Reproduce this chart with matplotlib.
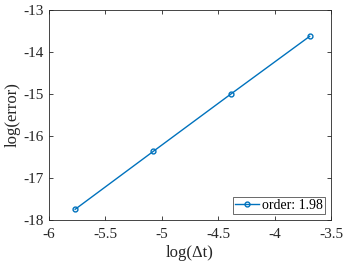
import numpy as np
import matplotlib
matplotlib.use('Agg')
from matplotlib import pyplot as plt

plt.rcParams['font.family'] = ['Liberation Serif', 'DejaVu Serif']
plt.rcParams['mathtext.fontset'] = 'stix'

# 数据：log(dt) 与 log(error)
log_dt = [-5.768, -5.075, -4.382, -3.689]
log_err = [-17.745, -16.365, -14.99, -13.627]
order = 1.98

fig = plt.figure(figsize=(3.46, 2.63), dpi=100)
ax = fig.add_axes([0.1416, 0.1635, 0.815, 0.7985])

blue = '#0072BD'
ax.plot(log_dt, log_err, color=blue, linewidth=1, marker='o', markersize=3.5,
        markerfacecolor='none', markeredgewidth=1, label=f'order: {order}')

ax.set_xlim(-6, -3.5)
ax.set_ylim(-18, -13)
ax.set_xticks([-6, -5.5, -5, -4.5, -4, -3.5])
ax.set_xticklabels(['-6', '-5.5', '-5', '-4.5', '-4', '-3.5'])
ax.set_yticks([-18, -17, -16, -15, -14, -13])
ax.set_yticklabels(['-18', '-17', '-16', '-15', '-14', '-13'])

gray = '#262626'
for s in ax.spines.values():
    s.set_color(gray)
    s.set_linewidth(0.6)
ax.tick_params(direction='in', top=True, right=True, length=3, width=0.6,
               colors=gray, labelsize=11)
ax.tick_params(axis='x', pad=6)
ax.tick_params(axis='y', pad=4)

ax.set_xlabel('log(Δt)', fontsize=12, color=gray, labelpad=3)
ax.set_ylabel('log(error)', fontsize=12, color=gray, labelpad=2)

leg = ax.legend(loc='lower right', fontsize=10, frameon=True, fancybox=False,
                handlelength=1.7, handletextpad=0.2, borderpad=0.15,
                borderaxespad=0.45)
leg.get_frame().set_edgecolor(gray)
leg.get_frame().set_linewidth(0.6)

plt.savefig('out.png', dpi=100)
